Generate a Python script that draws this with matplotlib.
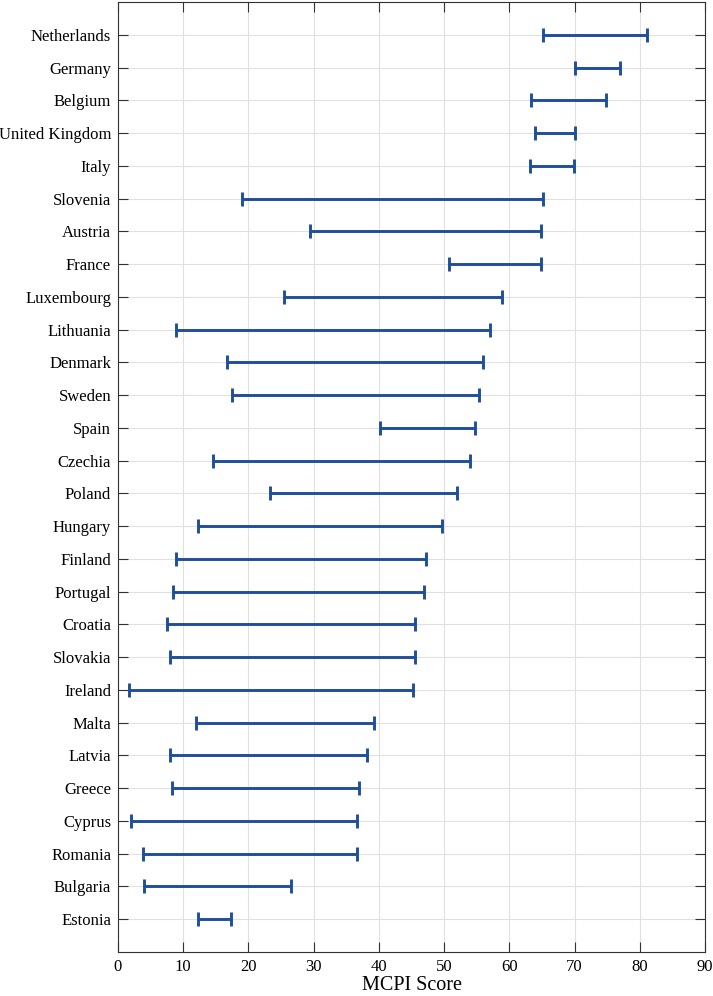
import matplotlib
matplotlib.use("Agg")
import matplotlib.pyplot as plt
import numpy as np

# countries listed top to bottom
countries = ['Netherlands', 'Germany', 'Belgium', 'United Kingdom', 'Italy',
             'Slovenia', 'Austria', 'France', 'Luxembourg', 'Lithuania',
             'Denmark', 'Sweden', 'Spain', 'Czechia', 'Poland', 'Hungary',
             'Finland', 'Portugal', 'Croatia', 'Slovakia', 'Ireland', 'Malta',
             'Latvia', 'Greece', 'Cyprus', 'Romania', 'Bulgaria', 'Estonia']
low = [65.1, 70.0, 63.3, 64.0, 63.2, 19.0, 29.5, 50.8, 25.4, 8.9,
       16.7, 17.5, 40.1, 14.6, 23.3, 12.3, 8.9, 8.4, 7.5, 7.9, 1.7, 11.9,
       8.0, 8.3, 2.0, 3.9, 4.0, 12.2]
high = [81.1, 76.9, 74.8, 70.1, 69.9, 65.1, 64.8, 64.8, 58.8, 57.1,
        56.0, 55.3, 54.7, 53.9, 52.0, 49.6, 47.2, 46.9, 45.6, 45.5, 45.3, 39.2,
        38.2, 36.9, 36.6, 36.6, 26.5, 17.4]

plt.rcParams['font.family'] = ['Liberation Serif', 'DejaVu Serif']

low = np.array(low)
high = np.array(high)
y = np.arange(len(countries), 0, -1)
mid = (low + high) / 2
half = (high - low) / 2

fig = plt.figure(figsize=(7.13, 9.96), dpi=100)
ax = fig.add_axes([118 / 713, 1 - 952 / 996, (705 - 118) / 713, (952 - 2) / 996])

ax.errorbar(mid, y, xerr=half, fmt='none', ecolor='#1f4e9b', elinewidth=2.1,
            capsize=4.7, capthick=2.1)

ax.set_xlim(0, 90)
ax.set_ylim(0, len(countries) + 1)
ax.set_xticks(np.arange(0, 91, 10))
ax.set_yticks(y)
ax.set_yticklabels(countries)
ax.grid(True, color='#e0e0e0', linewidth=0.8)
ax.set_axisbelow(True)
ax.tick_params(direction='in', length=7, width=0.8, color='#333333',
               top=True, right=True, labelsize=12, pad=5)
for s in ax.spines.values():
    s.set_color('#333333')
    s.set_linewidth(0.8)
ax.set_xlabel('MCPI Score', fontsize=14.5, labelpad=1)

fig.savefig('out.png', dpi=100)
